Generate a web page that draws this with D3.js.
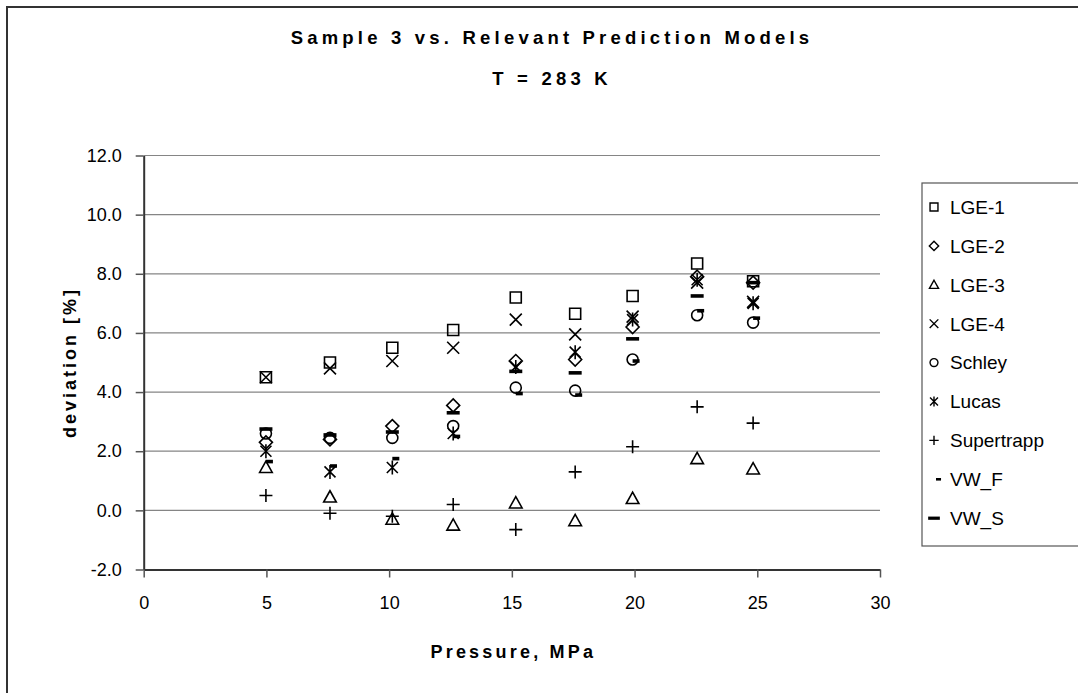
<!DOCTYPE html>
<html>
<head>
<meta charset="utf-8">
<script src="https://cdn.jsdelivr.net/npm/d3@7"></script>
<style>
  body { margin: 0; background: #fff; }
  svg { display: block; }
  text { font-family: Arial, "Liberation Sans", sans-serif; fill: #000; }
</style>
</head>
<body>
<svg id="chart" width="1078" height="693"></svg>
<script>
// Pressure points (MPa) shared by every model
const pressure   = [4.98, 7.59, 10.13, 12.61, 15.16, 17.58, 19.92, 22.55, 24.83];

// Deviation [%] per prediction model
const lge1       = [4.50, 5.00, 5.50, 6.10, 7.20, 6.65, 7.25, 8.35, 7.75];
const lge2       = [2.30, 2.40, 2.85, 3.55, 5.05, 5.10, 6.20, 7.90, 7.70];
const lge3       = [1.45, 0.45, -0.30, -0.50, 0.25, -0.35, 0.40, 1.75, 1.40];
const lge4       = [4.50, 4.80, 5.05, 5.50, 6.45, 5.95, 6.55, 7.70, 7.05];
const schley     = [2.60, 2.45, 2.45, 2.85, 4.15, 4.05, 5.10, 6.60, 6.35];
const lucas      = [2.00, 1.30, 1.45, 2.60, 4.85, 5.35, 6.45, 7.80, 7.00];
const supertrapp = [0.50, -0.10, -0.20, 0.20, -0.65, 1.30, 2.15, 3.50, 2.95];
const vwF        = [1.65, 1.50, 1.75, 2.50, 3.95, 3.90, 5.05, 6.75, 6.50];
const vwS        = [2.75, 2.55, 2.65, 3.30, 4.70, 4.65, 5.80, 7.25, 7.70];

const seriesNames   = ["LGE-1", "LGE-2", "LGE-3", "LGE-4", "Schley", "Lucas", "Supertrapp", "VW_F", "VW_S"];
const seriesValues  = [lge1, lge2, lge3, lge4, schley, lucas, supertrapp, vwF, vwS];
const seriesMarkers = ["square", "diamond", "triangle", "x", "circle", "star", "plus", "dashShort", "dashLong"];

const xTicks = [0, 5, 10, 15, 20, 25, 30];
const yTicks = [-2, 0, 2, 4, 6, 8, 10, 12];

const titleLines = ["Sample 3 vs. Relevant Prediction Models", "T = 283 K"];
const xTitle = "Pressure, MPa";
const yTitle = "deviation [%]";

// ---------- layout ----------
const svg = d3.select("#chart");
const plot = { left: 143.7, right: 880, top: 155.5, bottom: 569.5 };

const x = d3.scaleLinear().domain([0, 30]).range([plot.left, plot.right]);
const y = d3.scaleLinear().domain([-2, 12]).range([plot.bottom, plot.top]);

// chart-area frame (continues past the right and bottom edges)
svg.append("path")
  .attr("d", "M7,720 V7 H1120")
  .attr("fill", "none")
  .attr("stroke", "#333")
  .attr("stroke-width", 2);

// titles
const title = svg.append("g").attr("font-weight", "bold").attr("font-size", 18.5)
  .attr("letter-spacing", 4.2).attr("text-anchor", "middle");
title.selectAll("text").data(titleLines).join("text")
  .attr("x", 552)
  .attr("y", (d, i) => 44 + i * 41)
  .text(d => d);

// horizontal gridlines
svg.append("g").selectAll("line").data(yTicks.filter(v => v > -2)).join("line")
  .attr("x1", plot.left).attr("x2", plot.right)
  .attr("y1", d => y(d)).attr("y2", d => y(d))
  .attr("stroke", "#858585").attr("stroke-width", 1.2);

// axes
const yAxis = svg.append("g")
  .attr("transform", `translate(${plot.left},0)`)
  .call(d3.axisLeft(y).tickValues(yTicks).tickFormat(d => d.toFixed(1))
    .tickSize(8).tickSizeOuter(0).tickPadding(14));

const xAxis = svg.append("g")
  .attr("transform", `translate(0,${plot.bottom})`)
  .call(d3.axisBottom(x).tickValues(xTicks).tickFormat(d => String(d))
    .tickSize(8).tickSizeOuter(0).tickPadding(18.5));

[yAxis, xAxis].forEach(a => {
  a.select(".domain").attr("stroke", "#333").attr("stroke-width", 2);
  a.selectAll(".tick line").attr("stroke", "#555").attr("stroke-width", 1.5);
  a.selectAll(".tick text")
    .attr("font-family", "Arial, 'Liberation Sans', sans-serif")
    .attr("font-size", 18).attr("fill", "#000");
});

// axis titles
svg.append("text")
  .attr("x", (plot.left + plot.right) / 2 + 1.5).attr("y", 658)
  .attr("text-anchor", "middle").attr("font-weight", "bold")
  .attr("font-size", 18).attr("letter-spacing", 3.2)
  .text(xTitle);

svg.append("text")
  .attr("transform", `translate(76,${(plot.top + plot.bottom) / 2}) rotate(-90)`)
  .attr("text-anchor", "middle").attr("font-weight", "bold")
  .attr("font-size", 18).attr("letter-spacing", 3)
  .text(yTitle);

// ---------- markers ----------
function markerPath(type, s) {
  const p = d3.path();
  switch (type) {
    case "square": { const r = 5.5 * s; p.rect(-r, -r, 2 * r, 2 * r); break; }
    case "diamond": { const r = 6.5 * s; p.moveTo(0, -r); p.lineTo(r, 0); p.lineTo(0, r); p.lineTo(-r, 0); p.closePath(); break; }
    case "triangle": { const w = 6.3 * s; p.moveTo(0, -6.3 * s); p.lineTo(w, 5 * s); p.lineTo(-w, 5 * s); p.closePath(); break; }
    case "x": { const r = 6 * s; p.moveTo(-r, -r); p.lineTo(r, r); p.moveTo(-r, r); p.lineTo(r, -r); break; }
    case "circle": { const r = 5.5 * s; p.moveTo(r, 0); p.arc(0, 0, r, 0, 2 * Math.PI); break; }
    case "star": { const r = 5.5 * s; p.moveTo(-r, -r); p.lineTo(r, r); p.moveTo(-r, r); p.lineTo(r, -r); p.moveTo(0, -7 * s); p.lineTo(0, 7 * s); break; }
    case "plus": { const r = 6.5 * s; p.moveTo(-r, 0); p.lineTo(r, 0); p.moveTo(0, -r); p.lineTo(0, r); break; }
    case "dashShort": { p.rect(0, -1.8 * s, 7 * s, 3.6 * s); break; }
    case "dashLong": { p.rect(-6.5 * s, -1.8 * s, 13 * s, 3.6 * s); break; }
  }
  return p.toString();
}
const filledMarker = t => t === "dashShort" || t === "dashLong";

function styleMarker(sel, type) {
  sel.attr("fill", filledMarker(type) ? "#000" : "none")
     .attr("stroke", filledMarker(type) ? "none" : "#000")
     .attr("stroke-width", 1.6)
     .attr("stroke-linejoin", "miter");
}

const seriesData = seriesNames.map((name, i) => ({
  name,
  marker: seriesMarkers[i],
  points: pressure.map((p, j) => ({ p, v: seriesValues[i][j] }))
}));

const marks = svg.append("g");
seriesData.forEach(s => {
  marks.append("g").attr("class", "series")
    .selectAll("path").data(s.points).join("path")
    .attr("transform", d => `translate(${x(d.p)},${y(d.v)})`)
    .attr("d", markerPath(s.marker, 1))
    .call(styleMarker, s.marker);
});

// ---------- legend ----------
const legend = svg.append("g").attr("transform", "translate(922,183)");
legend.append("rect")
  .attr("x", 0).attr("y", 0).attr("width", 220).attr("height", 363)
  .attr("fill", "#fff").attr("stroke", "#555").attr("stroke-width", 1.2);

const rows = legend.selectAll("g.row").data(seriesData).join("g")
  .attr("class", "row")
  .attr("transform", (d, i) => `translate(0,${24 + i * 38.9})`);

rows.append("path")
  .attr("transform", d => `translate(${d.marker === "dashShort" ? 14 : 12},0)`)
  .attr("d", d => markerPath(d.marker, d.marker === "dashLong" ? 0.9 : 0.72))
  .each(function (d) { styleMarker(d3.select(this), d.marker); })
  .attr("stroke-width", 1.4);

rows.append("text")
  .attr("x", 28).attr("y", 0).attr("dy", "0.36em")
  .attr("font-size", 19)
  .text(d => d.name);
</script>
</body>
</html>
